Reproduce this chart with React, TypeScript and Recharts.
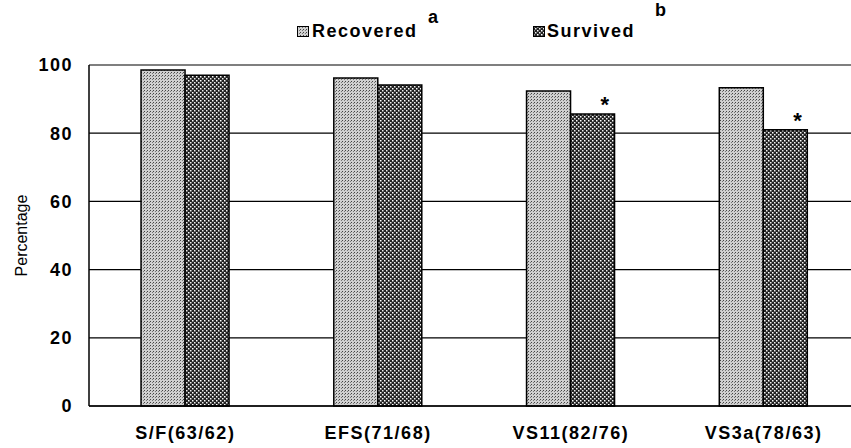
import React from 'react';
import {
  BarChart, Bar, XAxis, YAxis, CartesianGrid, Legend, LabelList,
} from 'recharts';

const categories = ['S/F(63/62)', 'EFS(71/68)', 'VS11(82/76)', 'VS3a(78/63)'];
const recovered = [98.5, 96.2, 92.4, 93.3];
const survived = [97.0, 94.1, 85.6, 81.0];
const significance = ['', '', '*', '*'];
const yTicks = [0, 20, 40, 60, 80, 100];

const data = categories.map((name, i) => ({
  name,
  recovered: recovered[i],
  survived: survived[i],
  sig: significance[i],
}));

const FONT = '"Liberation Sans", Arial, sans-serif';
const tickStyle = { fill: '#000', fontSize: 18, fontWeight: 'bold', fontFamily: FONT, letterSpacing: 1.5 };

function StarLabel(props: any) {
  const { x, y, width, value } = props;
  if (!value) return null;
  return (
    <text x={x + width * 0.78} y={y - 2} textAnchor="middle" fontFamily={FONT}
      fontWeight="bold" fontSize={22} fill="#000">
      {value}
    </text>
  );
}

function LegendBox() {
  const sw = (pat: string) => (
    <svg width={12} height={11} style={{ position: 'absolute', top: 0 }}>
      <rect x={0.5} y={0.5} width={11} height={10} fill={`url(#${pat})`} stroke="#000" strokeWidth={1} />
    </svg>
  );
  const txt: React.CSSProperties = {
    position: 'absolute', fontFamily: FONT, fontWeight: 'bold', fontSize: 18, letterSpacing: 1.5,
    color: '#000', whiteSpace: 'nowrap', lineHeight: '20px',
  };
  return (
    <div style={{ position: 'relative', width: 851, height: 45 }}>
      <div style={{ position: 'absolute', left: 297, top: 26 }}>{sw('recPat')}</div>
      <span style={{ ...txt, left: 312, top: 21 }}>Recovered</span>
      <span style={{ ...txt, left: 428, top: 7 }}>a</span>
      <div style={{ position: 'absolute', left: 533, top: 26 }}>{sw('survPat')}</div>
      <span style={{ ...txt, left: 547, top: 21 }}>Survived</span>
      <span style={{ ...txt, left: 655, top: 0 }}>b</span>
    </div>
  );
}

export default function App() {
  return (
    <div style={{ position: 'absolute', left: 0, top: 0, width: 851, height: 448, overflow: 'hidden', background: '#fff' }}>
      <BarChart width={860} height={448} data={data}
        margin={{ top: 20, right: 0, left: 0, bottom: 12 }}
        barCategoryGap="27%" barGap={0}>
        <defs>
          <pattern id="recPat" width={3} height={3} patternUnits="userSpaceOnUse">
            <rect width={3} height={3} fill="#d0d0d0" />
            <rect x={0} y={0} width={1} height={1} fill="#444" />
            <rect x={2} y={1} width={1} height={1} fill="#777" />
          </pattern>
          <pattern id="survPat" width={4} height={4} patternUnits="userSpaceOnUse">
            <rect width={4} height={4} fill="#222" />
            <rect x={0} y={0} width={1.5} height={1.5} fill="#fff" />
            <rect x={2} y={2} width={1.5} height={1.5} fill="#eee" />
          </pattern>
        </defs>
        <CartesianGrid vertical={false} stroke="#000" strokeWidth={1.2} />
        <XAxis dataKey="name" axisLine={{ stroke: '#000', strokeWidth: 1.5 }} tickLine={false}
          tick={tickStyle} tickMargin={14} />
        <YAxis domain={[0, 100]} ticks={yTicks} width={89} axisLine={{ stroke: '#000', strokeWidth: 1.5 }}
          tickLine={false} tickMargin={10} tick={tickStyle}
          label={{ value: 'Percentage', angle: -90, position: 'insideLeft', offset: 21,
            style: { fill: '#000', fontSize: 16, fontFamily: FONT, textAnchor: 'middle' } }} />
        <Legend verticalAlign="top" content={() => <LegendBox />}
          wrapperStyle={{ top: 0, left: 0, width: 851, height: 45 }} />
        <Bar dataKey="recovered" name="Recovered" fill="url(#recPat)" stroke="#000" strokeWidth={1.5}
          isAnimationActive={false} />
        <Bar dataKey="survived" name="Survived" fill="url(#survPat)" stroke="#000" strokeWidth={1.5}
          isAnimationActive={false}>
          <LabelList dataKey="sig" content={<StarLabel />} />
        </Bar>
      </BarChart>
    </div>
  );
}
